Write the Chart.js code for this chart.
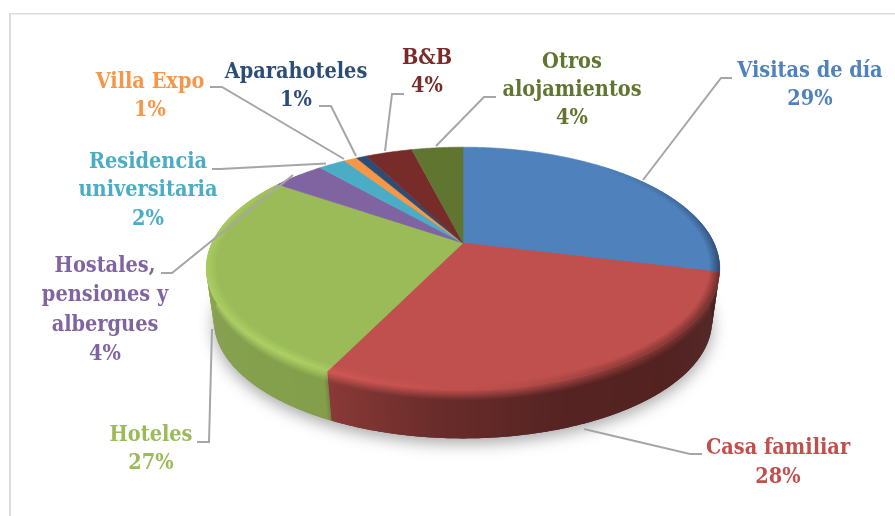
<!DOCTYPE html>
<html>
<head>
<meta charset="utf-8">
<style>
  html, body { margin: 0; padding: 0; background: #fff; }
  canvas { display: block; }
</style>
<script src="https://cdn.jsdelivr.net/npm/chart.js@4"></script>
</head>
<body>
<canvas id="pieChart" width="895" height="516"></canvas>
<script>
// Reparto por tipo de alojamiento, pie 3D
var CATEGORIES = ['Visitas de día', 'Casa familiar', 'Hoteles', 'Hostales, pensiones y albergues',
  'Residencia universitaria', 'Villa Expo', 'Aparahoteles', 'B&B', 'Otros alojamientos'];
var VALUES = [28.8, 28.4, 27.3, 4.0, 2.1, 1.0, 0.8, 3.6, 3.95];
var COLORS = ['#4f81bd', '#c0504d', '#9bbb59', '#8064a2', '#4bacc6', '#f79646', '#2c4d75', '#772c2a', '#5f7530'];

// label lines, then the percentage is added from VALUES
var LABEL_LINES = [
  ['Visitas de día'],
  ['Casa familiar'],
  ['Hoteles'],
  ['Hostales,', 'pensiones y', 'albergues'],
  ['Residencia', 'universitaria'],
  ['Villa Expo'],
  ['Aparahoteles'],
  ['B&B'],
  ['Otros', 'alojamientos']
];
var LABEL_X = [810, 778, 151, 105, 148, 150, 296, 427, 572];
var LABEL_Y = [71, 448, 435, 266, 162, 82, 72, 58, 62];
var LABEL_STEP = [28, 29, 28, 29.6, 28.5, 28, 28, 28, 28];
var LEADERS = [
  [[732, 78], [721, 78], [643, 180]],
  [[702, 454], [690, 454], [584, 429]],
  [[197, 442], [209, 442], [212, 329]],
  [[161, 273], [172, 273], [293, 175]],
  [[212, 169], [220, 169], [326, 163.5]],
  [[210, 87], [222, 87], [344, 159]],
  [[319, 106], [331, 106], [356, 156]],
  [[404, 94], [392, 94], [385, 151]],
  [[496, 97], [484, 97], [436, 146]]
];

var SQUASH = 0.462;   // ry / rx
var PERSP = 0.21;     // front of the disc looks bigger than the back
var DEPTH = 53;
var BOTTOM_SCALE = 0.97;
var RIM_WIDTH = 0.04;
var STEP = Math.PI / 720;

// shading along the pie edge, by degrees clockwise from 12 o'clock
var SIDE_SHADE = [[80, 0.35], [104, 0.35], [120, 0.42], [160, 0.44], [185, 0.55], [206, 0.72], [207, 0.85], [285, 0.88]];
var RIM_SHADE = [[40, 1], [90, 0.65], [104, 0.55], [120, 0.6], [150, 0.75], [170, 0.95], [195, 1.05], [215, 1.12], [290, 1.08], [312, 1]];

function lookup(table, deg) {
  if (deg <= table[0][0]) return table[0][1];
  for (var i = 1; i < table.length; i++) {
    if (deg <= table[i][0]) {
      var t = (deg - table[i - 1][0]) / (table[i][0] - table[i - 1][0]);
      return table[i - 1][1] + t * (table[i][1] - table[i - 1][1]);
    }
  }
  return table[table.length - 1][1];
}

function shade(hex, f) {
  var n = parseInt(hex.slice(1), 16);
  var c = [n >> 16, (n >> 8) & 255, n & 255].map(function (v) {
    return Math.min(255, Math.round(v * f));
  });
  return 'rgb(' + c.join(',') + ')';
}

function degOf(angle) {
  var d = (angle + Math.PI / 2) * 180 / Math.PI;
  return ((d % 360) + 360) % 360;
}

// project a point of the disc (angle from the arc element, r = 0..1)
function project(arc, angle, r, bottom) {
  var rx = arc.outerRadius, ry = rx * SQUASH;
  var X = Math.cos(angle) * r, Y = Math.sin(angle) * r;
  var w = 1 - PERSP * Y;
  var s = bottom ? BOTTOM_SCALE : 1;
  return {
    x: arc.x + s * rx * X / w,
    y: arc.y + s * ry * Y / w + (bottom ? DEPTH : 0)
  };
}

function polygon(ctx, pts) {
  ctx.beginPath();
  pts.forEach(function (p, i) {
    if (i === 0) ctx.moveTo(p.x, p.y); else ctx.lineTo(p.x, p.y);
  });
  ctx.closePath();
}

var pie3d = {
  id: 'pie3d',
  beforeDraw: function (chart) {
    var ctx = chart.ctx;
    ctx.save();
    ctx.fillStyle = '#fff';
    ctx.fillRect(0, 0, chart.width, chart.height);
    ctx.fillStyle = '#dcdcdc';
    ctx.fillRect(9, 13, 2, chart.height - 13);
    ctx.fillRect(9, 13, chart.width - 9, 1.5);
    ctx.restore();
  },
  beforeDatasetDraw: function (chart, args) {
    var ctx = chart.ctx;
    var arcs = chart.getDatasetMeta(args.index).data;
    var first = arcs[0];
    ctx.save();

    // soft shadow below the disc
    var ring = [];
    for (var a = 0; a < Math.PI * 2; a += STEP * 4) ring.push(project(first, a, 1, true));
    ctx.save();
    ctx.shadowColor = 'rgba(0,0,0,0.35)';
    ctx.shadowBlur = 16;
    ctx.shadowOffsetY = 5;
    ctx.fillStyle = '#888';
    polygon(ctx, ring);
    ctx.fill();
    ctx.restore();

    // side wall
    arcs.forEach(function (arc, i) {
      var base = arc.options.backgroundColor;
      for (var a = arc.startAngle; a < arc.endAngle; a += STEP) {
        var mid = a + STEP / 2, deg = degOf(mid);
        if (deg < 78 || deg > 285) continue;
        var a1 = Math.min(a + STEP * 2, arc.endAngle);
        var p0 = project(arc, a, 1), p1 = project(arc, a1, 1);
        var b0 = project(arc, a, 1, true), b1 = project(arc, a1, 1, true);
        var g = ctx.createLinearGradient(0, Math.min(p0.y, p1.y), 0, Math.max(b0.y, b1.y));
        g.addColorStop(0, shade(base, lookup(RIM_SHADE, deg)));
        g.addColorStop(0.22, shade(base, lookup(SIDE_SHADE, deg)));
        g.addColorStop(1, shade(base, lookup(SIDE_SHADE, deg)));
        ctx.fillStyle = g;
        polygon(ctx, [p0, p1, b1, b0]);
        ctx.fill();
      }
    });

    // top face
    arcs.forEach(function (arc) {
      var pts = [{ x: arc.x, y: arc.y }];
      for (var a = arc.startAngle; a < arc.endAngle; a += STEP) pts.push(project(arc, a, 1));
      pts.push(project(arc, arc.endAngle, 1));
      ctx.fillStyle = arc.options.backgroundColor;
      ctx.strokeStyle = arc.options.backgroundColor;
      ctx.lineWidth = 0.6;
      polygon(ctx, pts);
      ctx.fill();
      ctx.stroke();
    });

    // bevel along the edge of the top face
    arcs.forEach(function (arc) {
      var base = arc.options.backgroundColor;
      for (var a = arc.startAngle; a < arc.endAngle; a += STEP) {
        var deg = degOf(a + STEP / 2);
        var f = lookup(RIM_SHADE, deg);
        if (deg < 40 || deg > 312) continue;
        var a1 = Math.min(a + STEP * 2, arc.endAngle);
        var i0 = project(arc, a, 1 - RIM_WIDTH), i1 = project(arc, a1, 1 - RIM_WIDTH);
        var o0 = project(arc, a, 1), o1 = project(arc, a1, 1);
        var g = ctx.createLinearGradient(i0.x, i0.y, o0.x, o0.y);
        g.addColorStop(0, base);
        g.addColorStop(1, shade(base, f));
        ctx.fillStyle = g;
        polygon(ctx, [i0, i1, o1, o0]);
        ctx.fill();
      }
    });

    // leader lines and labels
    ctx.strokeStyle = '#a6a6a6';
    ctx.lineWidth = 2;
    LEADERS.forEach(function (line) {
      ctx.beginPath();
      line.forEach(function (p, i) {
        if (i === 0) ctx.moveTo(p[0], p[1]); else ctx.lineTo(p[0], p[1]);
      });
      ctx.stroke();
    });
    ctx.font = 'bold 21.5px "DejaVu Serif Condensed", "DejaVu Serif"';
    ctx.textAlign = 'center';
    ctx.textBaseline = 'middle';
    LABEL_LINES.forEach(function (lines, i) {
      var all = lines.concat([Math.round(VALUES[i]) + '%']);
      ctx.fillStyle = COLORS[i];
      all.forEach(function (txt, j) {
        ctx.fillText(txt, LABEL_X[i], LABEL_Y[i] + j * LABEL_STEP[i]);
      });
    });

    ctx.restore();
    return false;
  }
};

new Chart(document.getElementById('pieChart').getContext('2d'), {
  type: 'pie',
  data: {
    labels: CATEGORIES,
    datasets: [{
      data: VALUES,
      backgroundColor: COLORS,
      borderWidth: 0
    }]
  },
  options: {
    responsive: false,
    animation: false,
    radius: 251,
    layout: { padding: { left: 31, bottom: 30 } },
    plugins: {
      legend: { display: false },
      tooltip: { enabled: false }
    }
  },
  plugins: [pie3d]
});
</script>
</body>
</html>
